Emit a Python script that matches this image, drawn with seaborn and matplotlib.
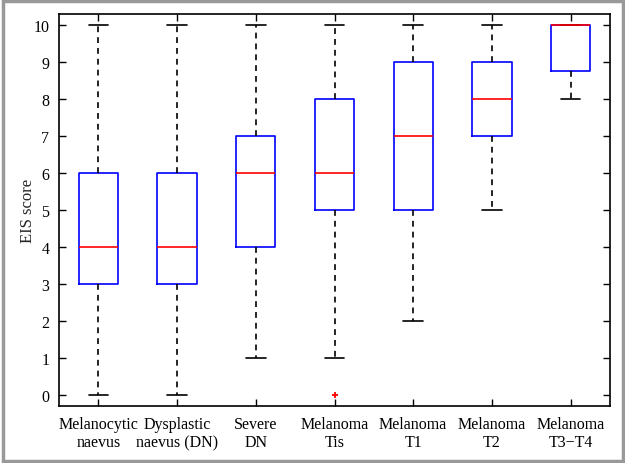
import numpy as np
import pandas as pd
import matplotlib.pyplot as plt
from matplotlib.patches import Rectangle
import seaborn as sns

groups = ['Melanocytic\nnaevus', 'Dysplastic\nnaevus (DN)', 'Severe\nDN',
          'Melanoma\nTis', 'Melanoma\nT1', 'Melanoma\nT2', 'Melanoma\nT3\u2212T4']
melanocytic = [0, 3, 4, 6, 10]
dysplastic = [0, 3, 4, 6, 10]
severe_dn = [1, 4, 6, 7, 10]
mel_tis = [0, 1, 5, 5, 6, 8, 8, 10, 10]
mel_t1 = [2, 5, 7, 9, 10]
mel_t2 = [5, 7, 8, 9, 10]
mel_t34 = [8, 8, 9, 10, 10, 10, 10, 10]

scores = [melanocytic, dysplastic, severe_dn, mel_tis, mel_t1, mel_t2, mel_t34]
df = pd.DataFrame({
    'group': [g for g, s in zip(groups, scores) for _ in s],
    'score': [v for s in scores for v in s],
})

sns.set_style('ticks')
plt.rcParams['font.family'] = ['Liberation Serif', 'DejaVu Serif']
plt.rcParams['font.size'] = 11.5

fig = plt.figure(figsize=(6.25, 4.64), dpi=100)
fig.patches.append(Rectangle((0.004, 0.005), 0.992, 0.99, transform=fig.transFigure,
                             fill=False, edgecolor='#999999', linewidth=2.5))
ax = fig.add_axes([59 / 625, 1 - 407 / 464, 551 / 625, 392 / 464])

sns.boxplot(data=df, x='group', y='score', order=groups, width=0.5, fill=False,
            color='blue', linewidth=1.2, ax=ax,
            boxprops=dict(color='blue'),
            medianprops=dict(color='red'),
            whiskerprops=dict(color='black', linestyle=(0, (3.5, 3))),
            capprops=dict(color='black'),
            flierprops=dict(marker='+', markeredgecolor='red', markersize=5,
                            markeredgewidth=1.3))

ax.set_ylim(-0.3, 10.3)
ax.set_xlim(-0.5, len(groups) - 0.5)
ax.set_yticks(range(0, 11))
ax.set_xlabel('')
ax.set_ylabel('EIS score', labelpad=-2, fontsize=12)
ax.tick_params(direction='in', length=5, width=1, top=True, right=True,
               labelsize=11.5, colors='black', pad=7)
for sp in ax.spines.values():
    sp.set_visible(True)
    sp.set_linewidth(1.2)
    sp.set_color('black')

plt.savefig('out.png', dpi=100)
